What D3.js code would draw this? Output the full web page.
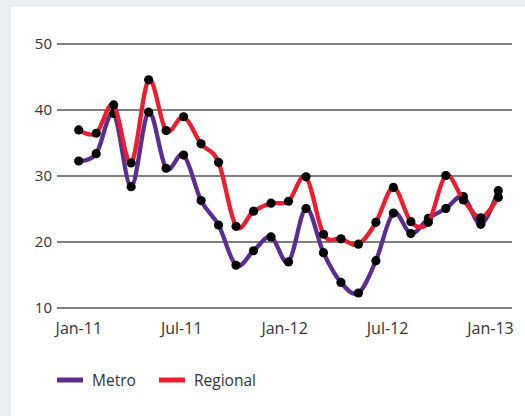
<!DOCTYPE html>
<html>
<head>
<meta charset="utf-8">
<script src="https://cdn.jsdelivr.net/npm/d3@7"></script>
<style>
  html, body { margin: 0; padding: 0; background: #e9eef1; }
  svg { display: block; }
  text { font-family: "Open Sans", "Noto Sans", sans-serif; fill: #333; }
</style>
</head>
<body>
<svg id="chart" width="525" height="416"></svg>
<script>
// Monthly series, Jan-11 to Jan-13
const months = ["Jan-11","Feb-11","Mar-11","Apr-11","May-11","Jun-11","Jul-11","Aug-11","Sep-11","Oct-11","Nov-11","Dec-11",
                "Jan-12","Feb-12","Mar-12","Apr-12","May-12","Jun-12","Jul-12","Aug-12","Sep-12","Oct-12","Nov-12","Dec-12","Jan-13"];
const metro    = [32.2, 33.3, 39.4, 28.3, 39.6, 31.1, 33.1, 26.2, 22.5, 16.4, 18.6, 20.7,
                  16.9, 25.0, 18.3, 13.8, 12.2, 17.1, 24.3, 21.2, 23.5, 25.0, 26.8, 22.6, 27.7];
const regional = [36.9, 36.4, 40.7, 31.9, 44.5, 36.8, 38.9, 34.8, 32.0, 22.3, 24.6, 25.8,
                  26.1, 29.8, 21.1, 20.4, 19.6, 22.9, 28.2, 23.0, 22.9, 30.0, 26.3, 23.6, 26.7];
const xTickLabels = ["Jan-11","Jul-11","Jan-12","Jul-12","Jan-13"];
const yTicks = [10, 20, 30, 40, 50];
const seriesNames = ["Metro", "Regional"];
const seriesColors = ["#5c2d91", "#ed1c2e"];

const svg = d3.select("#chart");

// white panel inside the light frame
svg.append("rect").attr("x", 11).attr("y", 7).attr("width", 514).attr("height", 409).attr("fill", "#fff");

const x = d3.scalePoint().domain(months).range([78.7, 498.3]);
const xLab = d3.scalePoint().domain(xTickLabels).range([78.3, 490]);
const y = d3.scaleLinear().domain([10, 50]).range([307.5, 43.5]);

// horizontal gridlines + value labels
const yAxis = svg.append("g")
  .attr("transform", "translate(57,0)")
  .call(d3.axisLeft(y).tickValues(yTicks).tickSize(-455).tickPadding(5).tickFormat(d3.format("d")));
yAxis.select(".domain").remove();
yAxis.selectAll(".tick line").attr("stroke", "#808080").attr("stroke-width", 2);
yAxis.selectAll(".tick text").attr("font-size", 15).attr("fill", "#333").attr("dy", "0.36em")
  .style("font-family", "'Open Sans', sans-serif");

// month labels
const xAxis = svg.append("g")
  .attr("transform", "translate(0,307.5)")
  .call(d3.axisBottom(xLab).tickSize(0).tickPadding(15));
xAxis.select(".domain").remove();
xAxis.selectAll(".tick text").attr("font-size", 16).attr("fill", "#333")
  .style("font-family", "'Open Sans', sans-serif");

const line = d3.line()
  .x((d, i) => x(months[i]))
  .y(d => y(d))
  .curve(d3.curveCardinal.tension(0));

[metro, regional].forEach((vals, si) => {
  const g = svg.append("g");
  g.append("path")
    .datum(vals)
    .attr("d", line)
    .attr("fill", "none")
    .attr("stroke", seriesColors[si])
    .attr("stroke-width", 4.3)
    .attr("stroke-linejoin", "round");
  g.selectAll("circle")
    .data(vals)
    .join("circle")
    .attr("cx", (d, i) => x(months[i]))
    .attr("cy", d => y(d))
    .attr("r", 4.6)
    .attr("fill", "#000");
});

// legend
const legend = svg.append("g").attr("transform", "translate(57,380)");
const legX = [0, 102];
seriesNames.forEach((name, i) => {
  const item = legend.append("g").attr("transform", `translate(${legX[i]},0)`);
  item.append("line").attr("x1", 0).attr("x2", 26).attr("y1", 0).attr("y2", 0)
    .attr("stroke", seriesColors[i]).attr("stroke-width", 5);
  item.append("text").attr("x", 35).attr("y", 0).attr("dy", "0.36em")
    .attr("font-size", 15.5).text(name);
});
</script>
</body>
</html>
